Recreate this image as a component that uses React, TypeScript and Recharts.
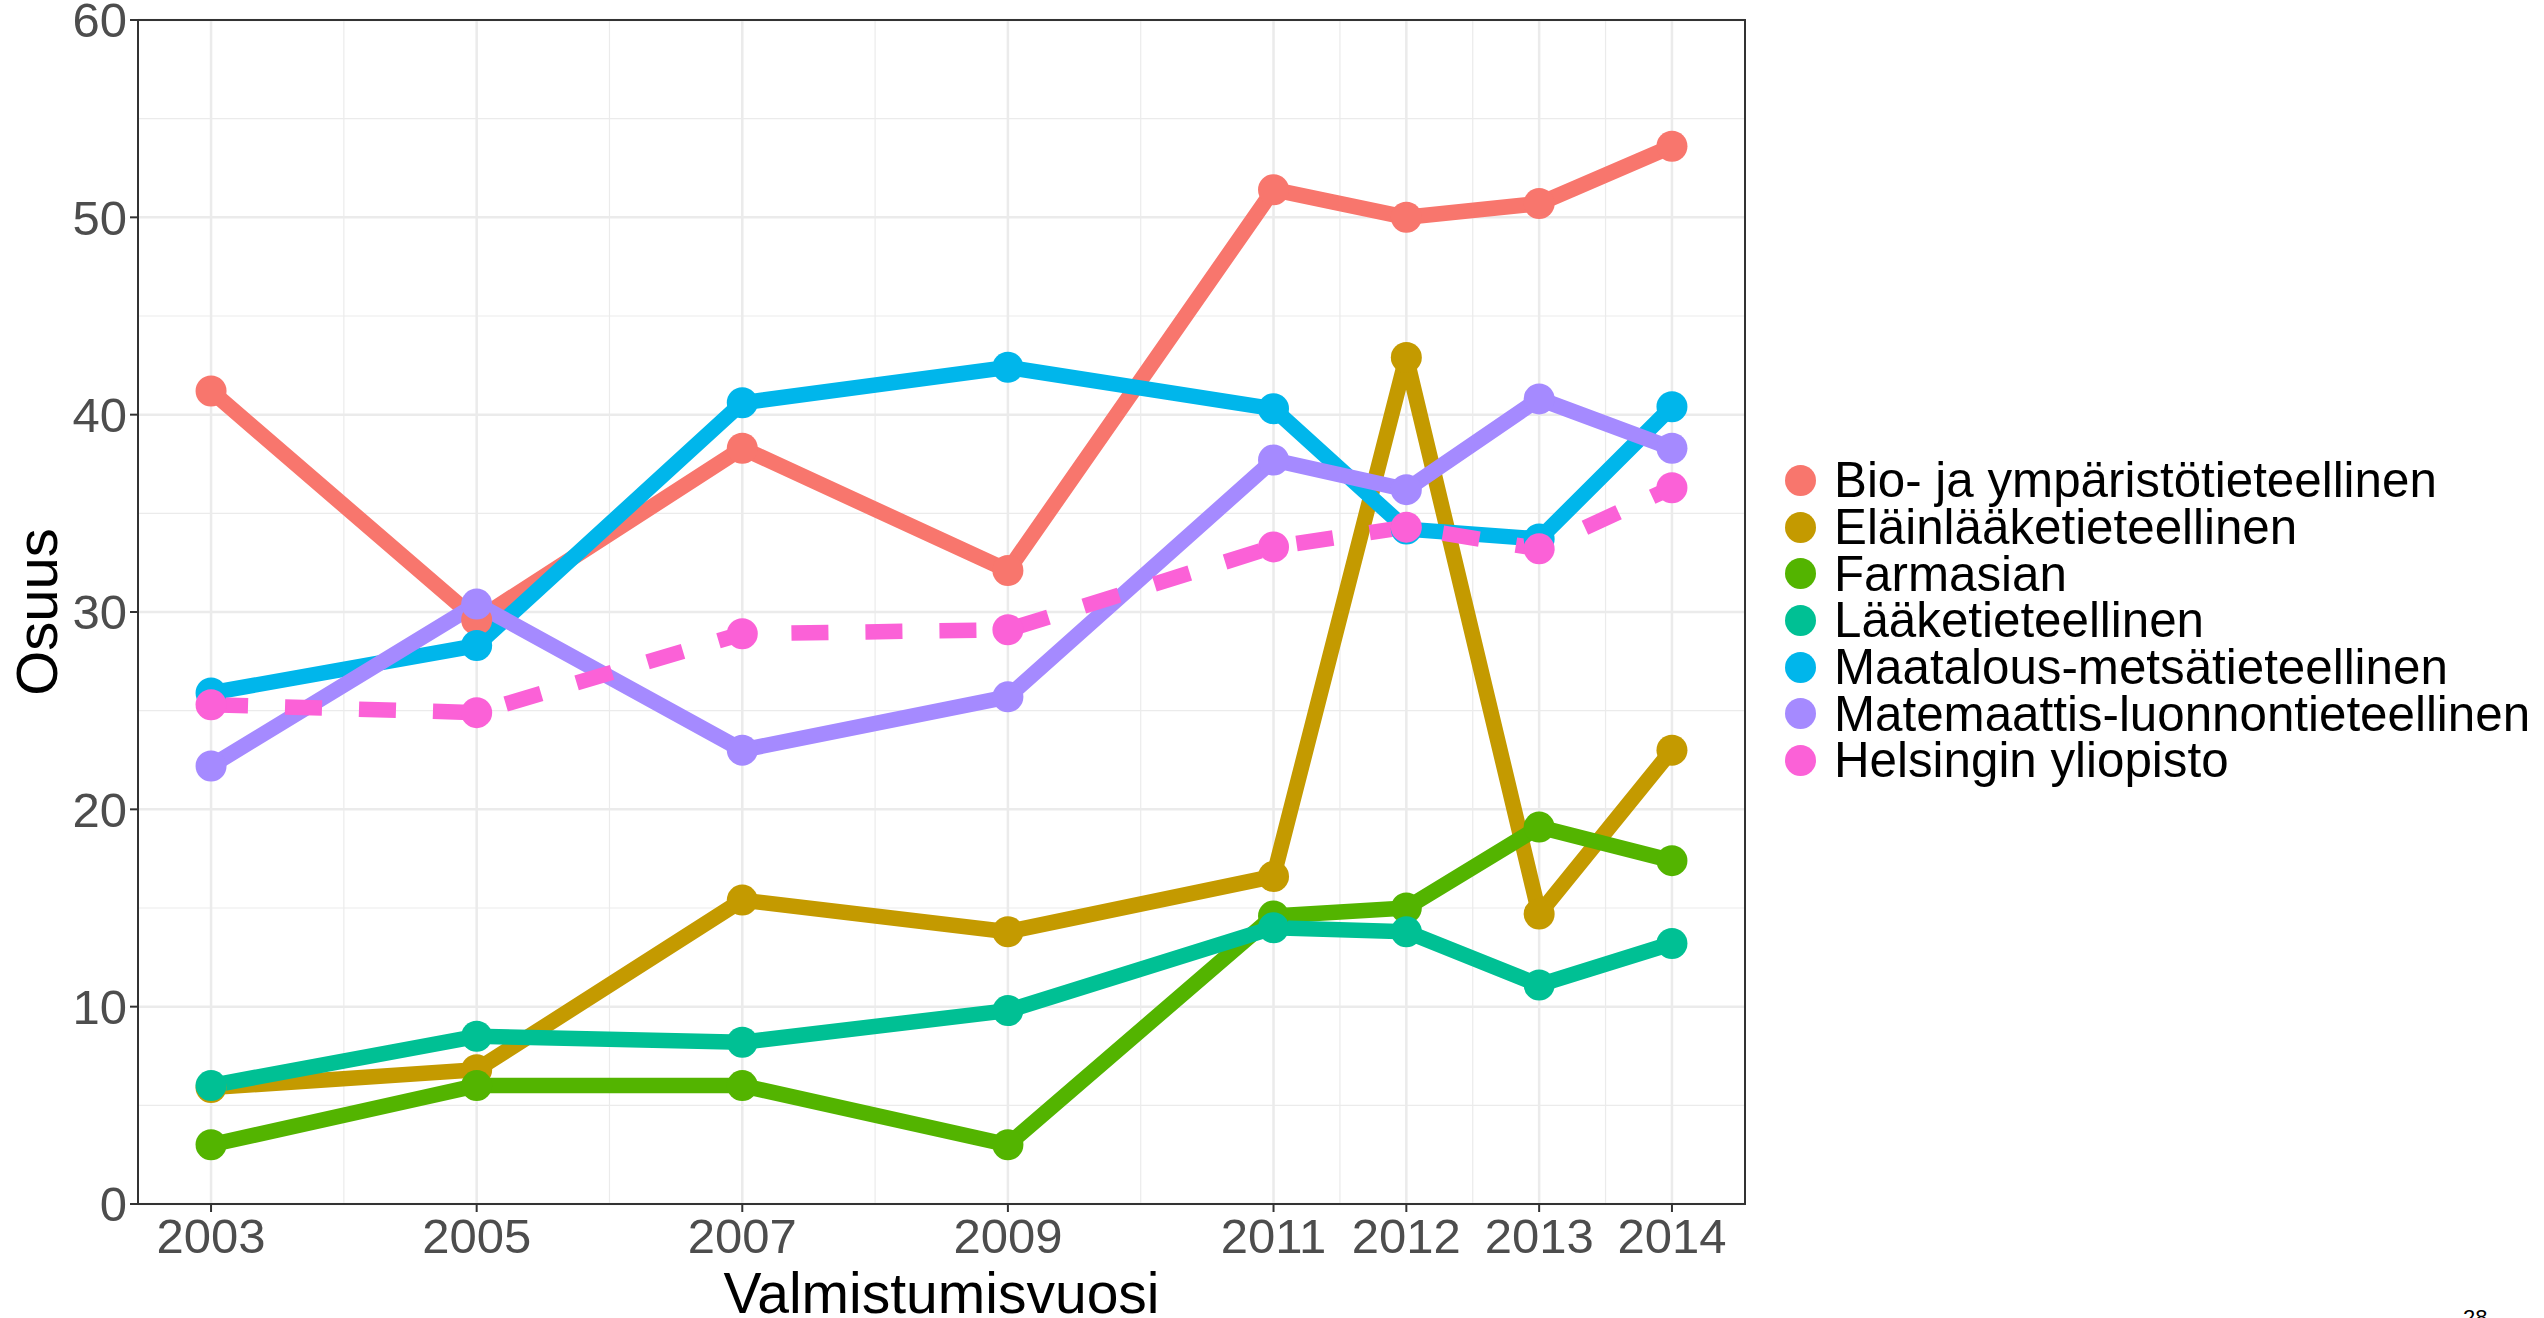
import React from 'react';
import {
  LineChart,
  Line,
  XAxis,
  YAxis,
  CartesianGrid,
  Legend,
  ReferenceArea,
  Label
} from 'recharts';

// values
const years = [2003, 2005, 2007, 2009, 2011, 2012, 2013, 2014];
const bio = [41.2, 29.6, 38.3, 32.1, 51.4, 50.0, 50.7, 53.6];
const elain = [5.9, 6.8, 15.4, 13.8, 16.6, 42.9, 14.7, 23.0];
const farmasia = [3.0, 6.0, 6.0, 3.0, 14.6, 15.0, 19.1, 17.4];
const laake = [6.0, 8.5, 8.2, 9.8, 14.0, 13.8, 11.1, 13.2];
const maatalous = [25.9, 28.3, 40.6, 42.4, 40.3, 34.2, 33.7, 40.4];
const matemaattis = [22.2, 30.4, 23.0, 25.7, 37.7, 36.2, 40.8, 38.3];
const helsinki = [25.3, 24.9, 28.9, 29.1, 33.3, 34.3, 33.2, 36.3];

const xTicks = [2003, 2005, 2007, 2009, 2011, 2012, 2013, 2014];
const xMinor = [2004, 2006, 2008, 2010, 2011.5, 2012.5, 2013.5];
const yTicks = [0, 10, 20, 30, 40, 50, 60];
const yMinor = [5, 15, 25, 35, 45, 55];
const xDomain = [2002.45, 2014.55];

const series = [
  { key: 'bio', name: 'Bio- ja ympäristötieteellinen', color: '#F8766D', values: bio, dashed: false },
  { key: 'elain', name: 'Eläinlääketieteellinen', color: '#C49A00', values: elain, dashed: false },
  { key: 'farmasia', name: 'Farmasian', color: '#53B400', values: farmasia, dashed: false },
  { key: 'laake', name: 'Lääketieteellinen', color: '#00C094', values: laake, dashed: false },
  { key: 'maatalous', name: 'Maatalous-metsätieteellinen', color: '#00B6EB', values: maatalous, dashed: false },
  { key: 'matemaattis', name: 'Matemaattis-luonnontieteellinen', color: '#A58AFF', values: matemaattis, dashed: false },
  { key: 'helsinki', name: 'Helsingin yliopisto', color: '#FB61D7', values: helsinki, dashed: true }
];

const rows = years.map((year, i) => {
  const row: Record<string, number> = { year };
  series.forEach(s => {
    row[s.key] = s.values[i];
  });
  return row;
});

const FONT = '"Liberation Sans", Arial, sans-serif';

const LegendBox = () => (
  <div style={{ fontFamily: FONT }}>
    {series.map(s => (
      <div key={s.key} style={{ display: 'flex', alignItems: 'center', height: 46.7 }}>
        <div style={{ width: 31, height: 31, borderRadius: '50%', background: s.color, flexShrink: 0 }} />
        <span style={{ marginLeft: 18, fontSize: 49.3, lineHeight: '46px', color: '#000', whiteSpace: 'nowrap' }}>
          {s.name}
        </span>
      </div>
    ))}
  </div>
);

const YTitle = (props: any) => {
  const vb = props.viewBox || { x: 0, y: 20, width: 138, height: 1184 };
  const x = vb.x + 57;
  const y = vb.y + vb.height / 2;
  return (
    <text transform={`translate(${x},${y}) rotate(-90)`} textAnchor="middle" fontSize={58} fontFamily={FONT} fill="#000">
      Osuus
    </text>
  );
};

const XTitle = (props: any) => {
  const vb = props.viewBox || { x: 138, y: 1204, width: 1607, height: 114 };
  return (
    <text x={vb.x + vb.width / 2} y={vb.y + vb.height - 5} textAnchor="middle" fontSize={57} fontFamily={FONT} fill="#000">
      Valmistumisvuosi
    </text>
  );
};

export default function App() {
  const tickStyle = { fontSize: 49, fill: '#4D4D4D', fontFamily: FONT };
  return (
    <div style={{ position: 'absolute', left: 0, top: 0, width: 2544, height: 1318, background: '#fff', overflow: 'hidden' }}>
      <LineChart width={2544} height={1318} data={rows} margin={{ top: 20, right: 799, bottom: 0, left: 0 }}>
        <CartesianGrid
          stroke="#EBEBEB"
          strokeWidth={1.2}
          horizontalValues={yMinor}
          verticalValues={xMinor}
        />
        <CartesianGrid stroke="#EBEBEB" strokeWidth={2.5} horizontalValues={yTicks} verticalValues={xTicks} />
        <XAxis
          dataKey="year"
          type="number"
          domain={xDomain}
          ticks={xTicks}
          allowDataOverflow
          height={114}
          axisLine={false}
          tickLine={{ stroke: '#333333', strokeWidth: 2 }}
          tickSize={8}
          tickMargin={6}
          tick={tickStyle}
          interval={0}
        >
          <Label content={XTitle} />
        </XAxis>
        <YAxis
          type="number"
          domain={[0, 60]}
          ticks={yTicks}
          allowDataOverflow
          width={138}
          axisLine={false}
          tickLine={{ stroke: '#333333', strokeWidth: 2 }}
          tickSize={8}
          tickMargin={3}
          tick={tickStyle}
          interval={0}
        >
          <Label content={YTitle} />
        </YAxis>
        {series.map(s => (
          <Line
            key={`line-${s.key}`}
            dataKey={s.key}
            name={s.name}
            stroke={s.color}
            strokeWidth={15.5}
            strokeDasharray={s.dashed ? '37 37' : undefined}
            strokeLinejoin="round"
            dot={false}
            activeDot={false}
            isAnimationActive={false}
          />
        ))}
        {series.map(s => (
          <Line
            key={`pts-${s.key}`}
            dataKey={s.key}
            stroke="none"
            strokeWidth={0}
            legendType="none"
            dot={{ r: 15.5, fill: s.color, stroke: 'none', strokeWidth: 0 }}
            activeDot={false}
            isAnimationActive={false}
          />
        ))}
        <ReferenceArea
          x1={xDomain[0]}
          x2={xDomain[1]}
          y1={0}
          y2={60}
          fill="none"
          fillOpacity={0}
          stroke="#333333"
          strokeWidth={2}
          ifOverflow="visible"
        />
        <Legend
          layout="vertical"
          align="center"
          verticalAlign="middle"
          content={LegendBox}
          wrapperStyle={{ left: 1785, top: 457, width: 760 }}
        />
      </LineChart>
      <div style={{ position: 'absolute', left: 2463, top: 1307, fontSize: 22, lineHeight: '22px', fontFamily: FONT, color: '#000' }}>
        28
      </div>
    </div>
  );
}
